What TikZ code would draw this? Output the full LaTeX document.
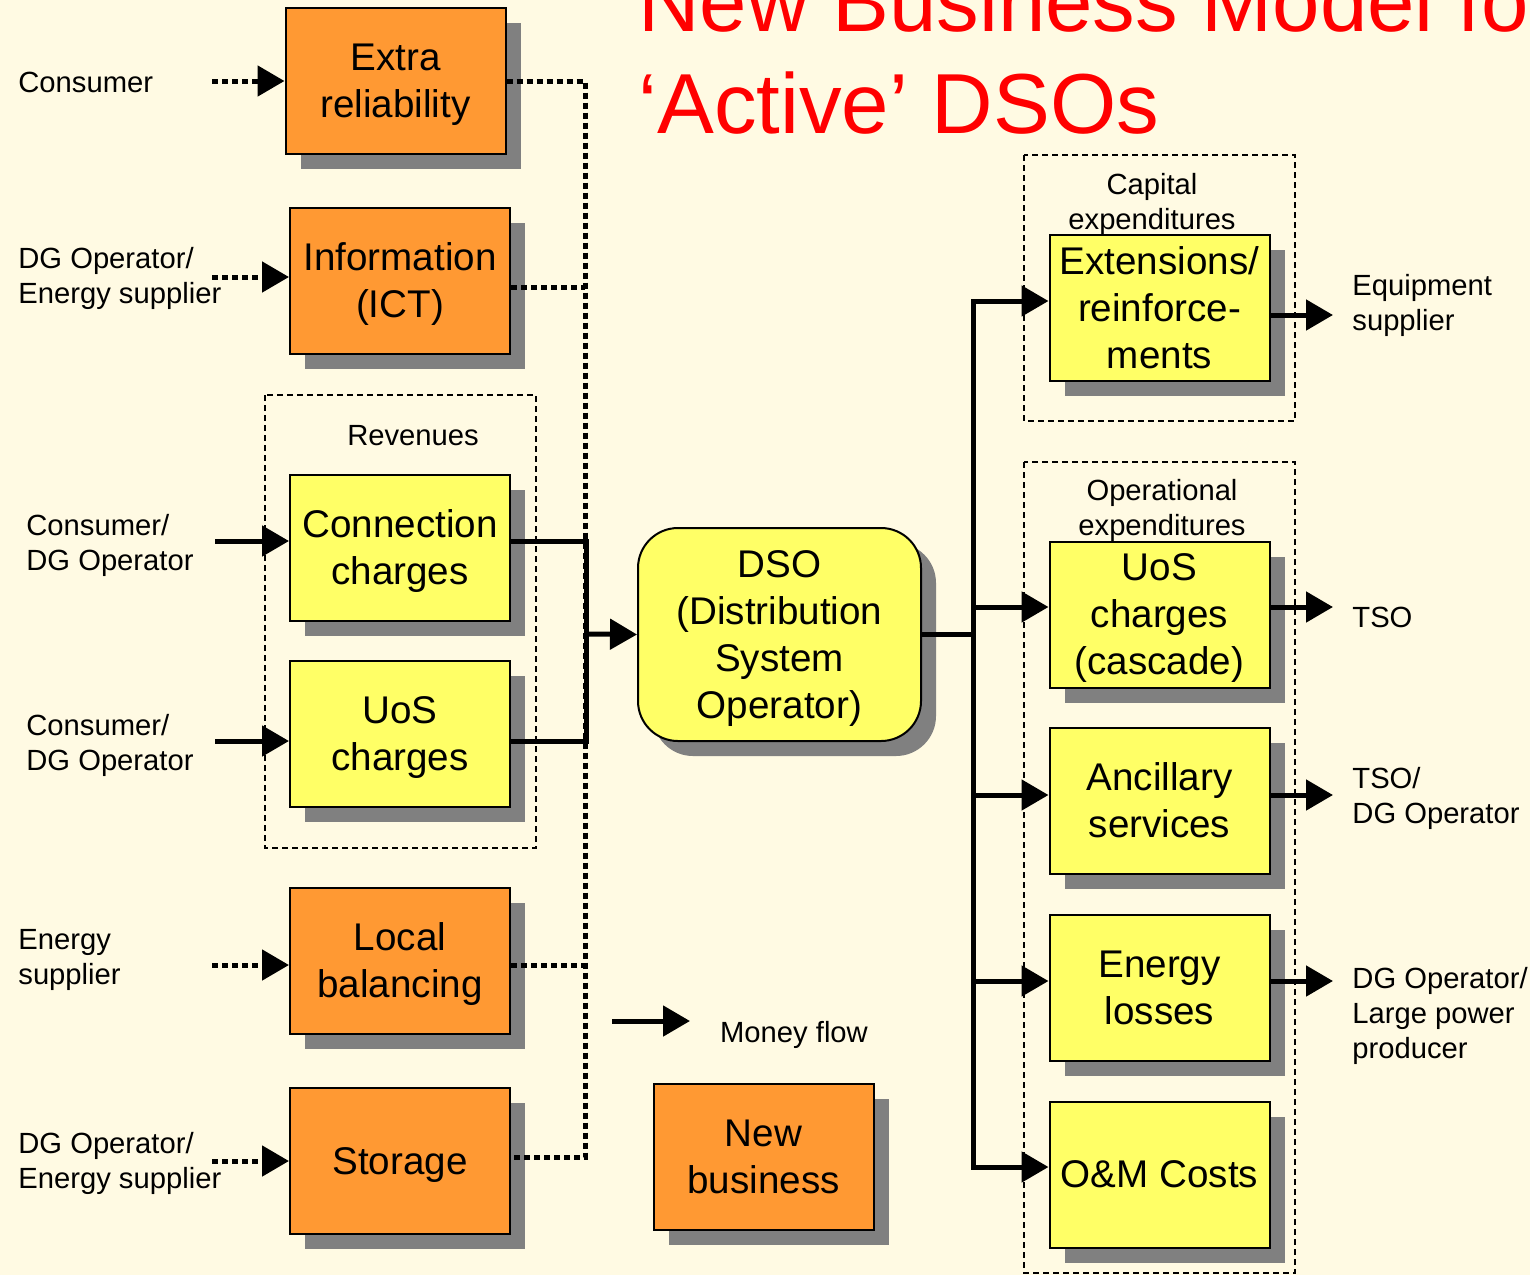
\documentclass[tikz,border=0pt]{standalone}
\usepackage{fontspec}
\setmainfont{Liberation Sans}
\usetikzlibrary{arrows.meta,shadows,calc}

\definecolor{bgcream}{RGB}{255,250,227}
\definecolor{boxorange}{RGB}{255,153,51}
\definecolor{boxyellow}{RGB}{255,255,102}
\definecolor{shadowgray}{RGB}{128,128,128}

% fixed ascent (first line) and descent (last line) so box texts sit on full line boxes
\newcommand\txtup{\rule{0pt}{17.5pt}}
\newcommand\txtdn{\rule[-4.1pt]{0pt}{0pt}}

\tikzset{
  box/.style={draw=black, line width=1pt, minimum width=110pt, minimum height=73pt,
    inner sep=0pt, align=center, font=\fontsize{19.3}{23.5}\selectfont,
    drop shadow={shadow xshift=7.5pt, shadow yshift=-7.5pt, fill=shadowgray, opacity=1}},
  obox/.style={box, fill=boxorange},
  ybox/.style={box, fill=boxyellow},
  lbl/.style={font=\fontsize{14.6}{17.5}\selectfont, align=left, anchor=west, inner sep=0pt},
  clbl/.style={font=\fontsize{14.6}{17.5}\selectfont, align=center, inner sep=0pt},
  flow/.style={line width=2.5pt, -{Triangle[length=13.5pt,width=15pt]}},
  dotflow/.style={flow, dash pattern=on 3pt off 2pt},
  bus/.style={line width=2.5pt, line join=miter},
  dotbus/.style={line width=2.5pt, dash pattern=on 3pt off 2pt},
  group/.style={draw, line width=0.75pt, dash pattern=on 3pt off 2pt},
  headline/.style={anchor=base west, inner sep=0pt, text=red, font=\fontsize{42.6}{51}\selectfont}
}

\begin{document}
\begin{tikzpicture}[x=0.5pt,y=-0.5pt]
\fill[bgcream] (0,0) rectangle (1530,1275);
\useasboundingbox (0,0) rectangle (1530,1275);
\clip (0,0) rectangle (1530,1275);

% title
\node[headline] (title1) at (638,31) {New Business Model for};
\node[headline] (title2) at (638,133) {‘Active’ DSOs};

% dashed groups
\draw[group] (265,395) rectangle (536,848);
\draw[group] (1024,155) rectangle (1295,421);
\draw[group] (1024,462) rectangle (1295,1273);
\node[clbl] (revlbl) at (413,436) {Revenues};
\node[clbl] (caplbl) at (1152,204) {Capital\\expenditures};
\node[clbl] (oplbl) at (1162,510) {Operational\\expenditures};

% left column
\node[obox] (extra) at (395.5,81) {\txtup Extra\\reliability\txtdn};
\node[obox] (info) at (400,281) {\txtup Information\\(ICT)\txtdn};
\node[ybox] (conn) at (400,548) {\txtup Connection\\charges\txtdn};
\node[ybox] (uos) at (400,734) {\txtup UoS\\charges\txtdn};
\node[obox] (localb) at (400,961) {\txtup Local\\balancing\txtdn};
\node[obox] (storage) at (400,1161) {\txtup Storage\txtdn};

% centre
\node[box, fill=boxyellow, rounded corners=20pt, minimum width=141.5pt, minimum height=106.5pt] (dso) at (779.5,634.5) {\txtup DSO\\(Distribution\\System\\Operator)\txtdn};
\node[obox] (newbiz) at (763.5,1157) {\txtup New\\business\txtdn};

% right column
\node[ybox] (ext) at (1159.5,308) {\txtup Extensions/\\reinforce-\\ments\txtdn};
\node[ybox] (uosc) at (1159.5,614.5) {\txtup UoS\\charges\\(cascade)\txtdn};
\node[ybox] (anc) at (1159.5,801) {\txtup Ancillary\\services\txtdn};
\node[ybox] (loss) at (1159.5,987.5) {\txtup Energy\\losses\txtdn};
\node[ybox] (om) at (1159.5,1174.5) {\txtup O\&M Costs\txtdn};

% payers
\node[lbl] (p1) at (18,82) {Consumer};
\node[lbl] (p2) at (18,278) {DG Operator/\\Energy supplier};
\node[lbl] (p3) at (26,545) {Consumer/\\DG Operator};
\node[lbl] (p4) at (26,745) {Consumer/\\DG Operator};
\node[lbl] (p5) at (18,960) {Energy\\supplier};
\node[lbl] (p6) at (18,1163) {DG Operator/\\Energy supplier};

% payees
\node[lbl] (q1) at (1352,305) {Equipment\\supplier};
\node[lbl] (q2) at (1352,617) {TSO};
\node[lbl] (q3) at (1352,798) {TSO/\\DG Operator};
\node[lbl] (q4) at (1352,1016) {DG Operator/\\Large power\\producer};

% incoming money flows
\coordinate (in1) at (212,81);
\coordinate (in2) at (212,277);
\coordinate (in3) at (215,541);
\coordinate (in4) at (215,741);
\coordinate (in5) at (212,965);
\coordinate (in6) at (212,1161);
\draw[dotflow] (in1) -- (extra.west);
\draw[dotflow] (in2) -- (in2 -| info.west);
\draw[flow] (in3) -- (in3 -| conn.west);
\draw[flow] (in4) -- (in4 -| uos.west);
\draw[dotflow] (in5) -- (in5 -| localb.west);
\draw[dotflow] (in6) -- (storage.west);

% collecting bus towards the DSO
\coordinate (lbtop) at (585,81);
\coordinate (lbbot) at (585,1157);
\coordinate (ib) at (585,287);
\coordinate (lb) at (585,965);
\draw[dotbus] (extra.east) -- (lbtop) -- (lbbot) -- (lbbot -| storage.east);
\draw[dotbus] (ib -| info.east) -- (ib);
\draw[dotbus] (lb -| localb.east) -- (lb);
\coordinate (sb1) at (586,541);
\coordinate (sb2) at (586,741);
\coordinate (sbm) at (586,634);
\draw[bus] (sb1 -| conn.east) -- (sb1) -- (sb2) -- (sb2 -| uos.east);
\draw[flow] (sbm) -- (dso.west);

% distribution bus from the DSO
\coordinate (rtop) at (973,301);
\coordinate (r2) at (973,607);
\coordinate (r3) at (973,795);
\coordinate (r4) at (973,981);
\coordinate (rbot) at (973,1167);
\draw[bus] (dso.east) -- (dso.east -| rtop);
\draw[bus, line cap=rect] (rtop) -- (rbot);
\draw[flow] (rtop) -- (rtop -| ext.west);
\draw[flow] (r2) -- (r2 -| uosc.west);
\draw[flow] (r3) -- (r3 -| anc.west);
\draw[flow] (r4) -- (r4 -| loss.west);
\draw[flow] (rbot) -- (rbot -| om.west);

% outgoing money flows
\coordinate (o1) at (1333,315);
\coordinate (o2) at (1333,607);
\coordinate (o3) at (1333,795);
\coordinate (o4) at (1333,981);
\draw[flow] (o1 -| ext.east) -- (o1);
\draw[flow] (o2 -| uosc.east) -- (o2);
\draw[flow] (o3 -| anc.east) -- (o3);
\draw[flow] (o4 -| loss.east) -- (o4);

% legend
\coordinate (mf1) at (612,1021);
\coordinate (mf2) at (690,1021);
\draw[flow] (mf1) -- (mf2);
\node[clbl] (mflbl) at (794,1035) {Money flow};
\end{tikzpicture}
\end{document}
